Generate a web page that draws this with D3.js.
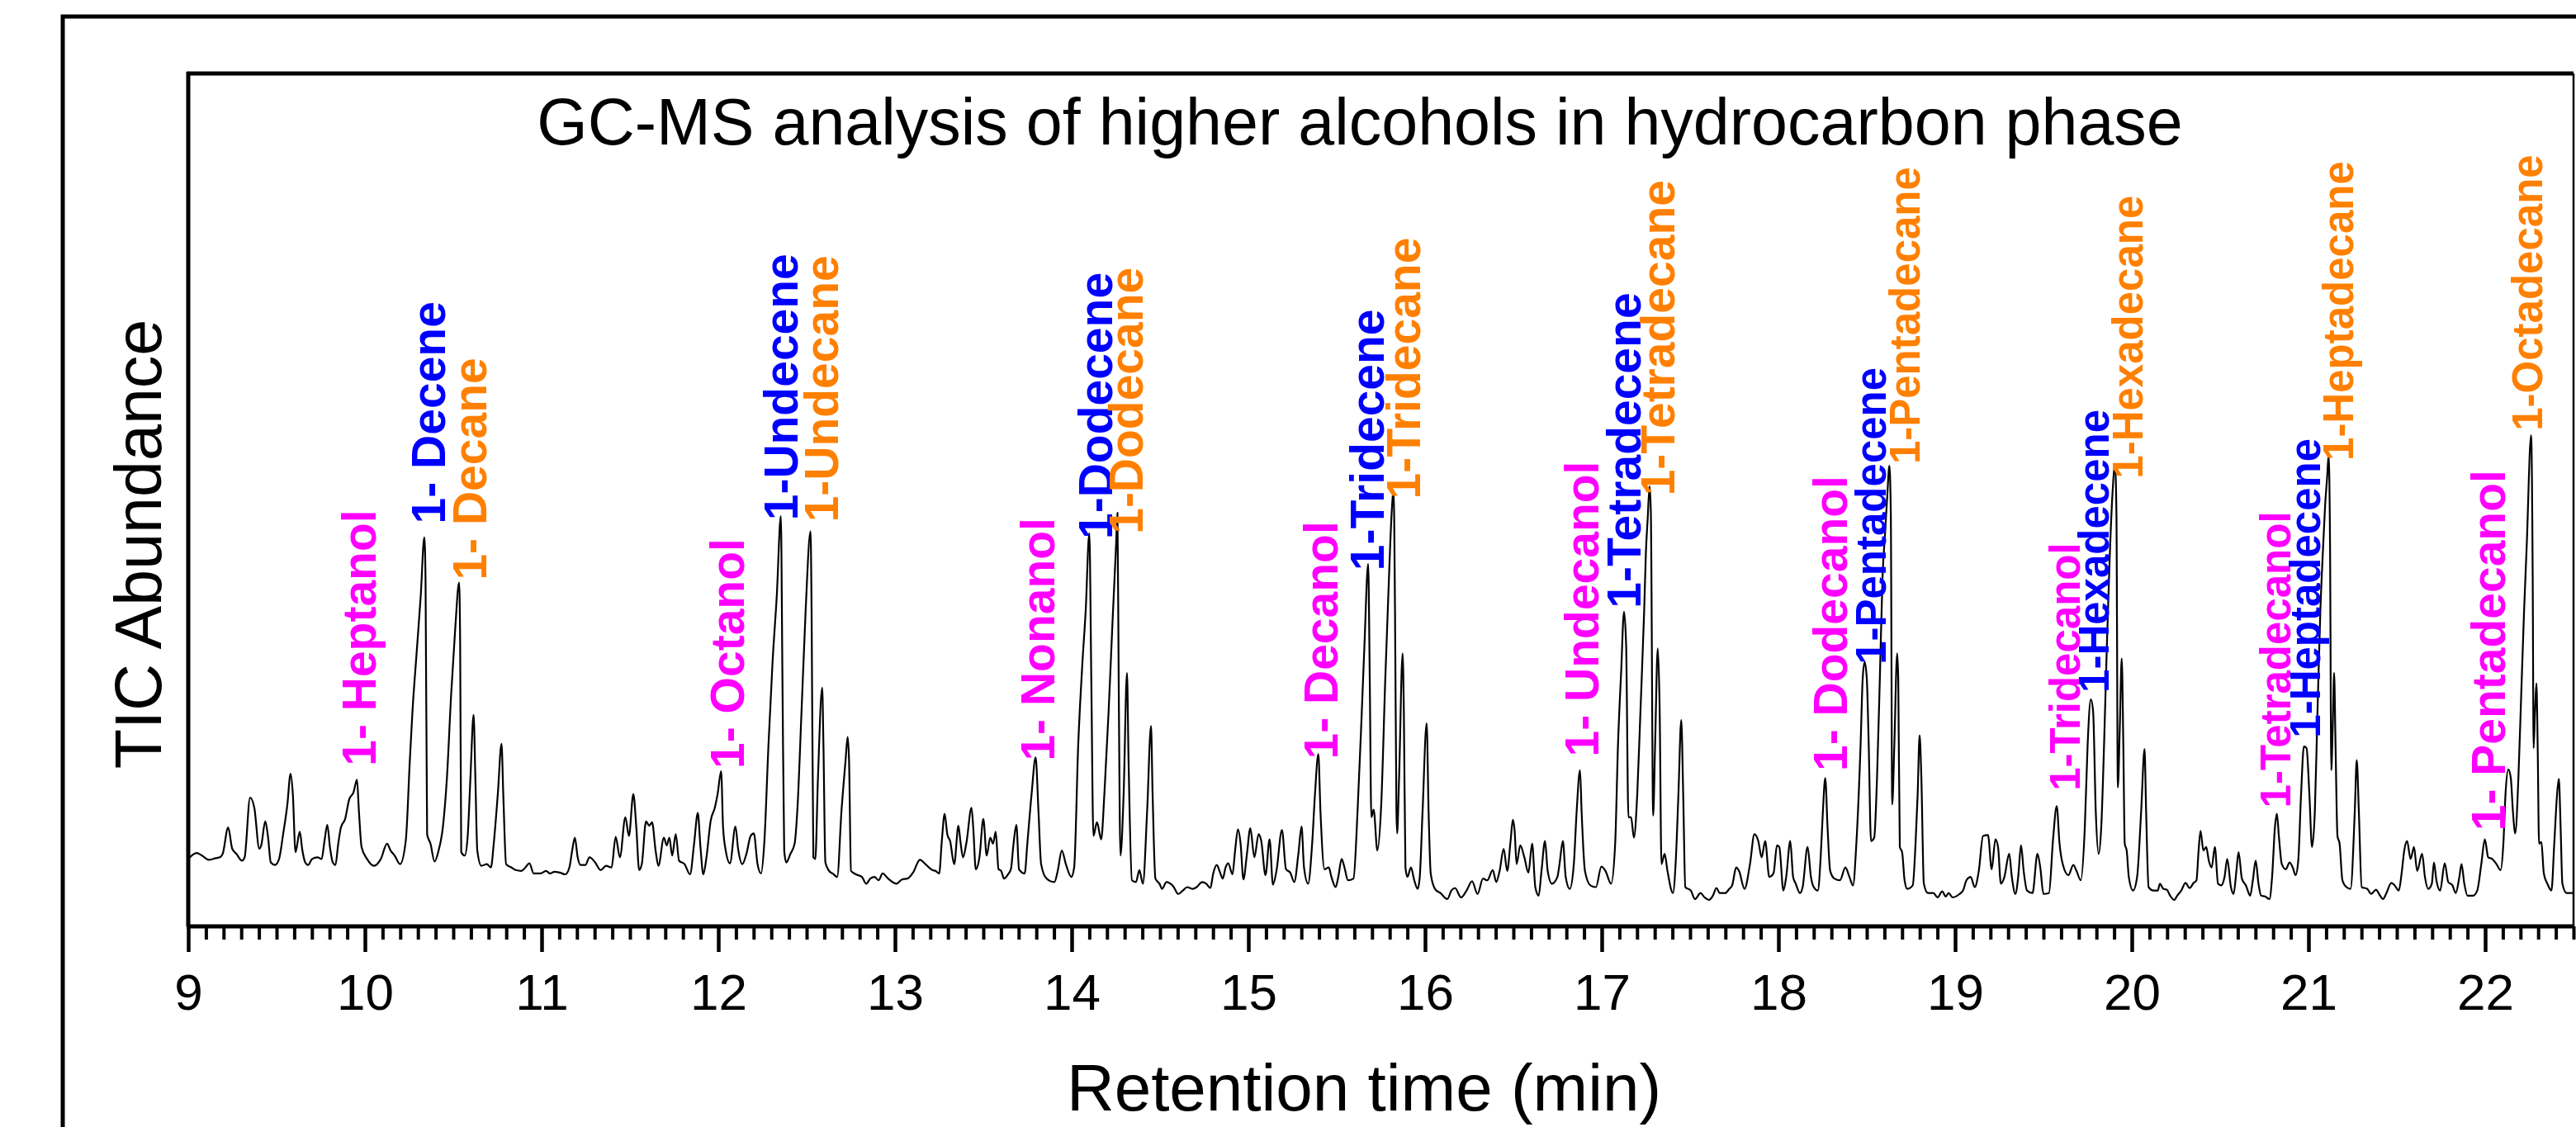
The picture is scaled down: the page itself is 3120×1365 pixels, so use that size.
<!DOCTYPE html>
<html><head><meta charset="utf-8">
<script src="https://cdn.jsdelivr.net/npm/d3@7"></script>
<style>html,body{margin:0;padding:0;background:#fff;} svg{display:block;}</style>
</head><body>
<svg id="chart" width="3120" height="1365"></svg>
<script>
// ---------------- DATA ----------------
const xTickLabels = [9,10,11,12,13,14,15,16,17,18,19,20,21,22];
const titleText = "GC-MS analysis of higher alcohols in hydrocarbon phase";
const xAxisTitle = "Retention time (min)";
const yAxisTitle = "TIC Abundance";

// TIC trace: [retention time (min), abundance (% of full scale)]
const trace9to11 = [
[9.000,7.9],[9.047,8.6],[9.078,8.3],[9.117,7.8],[9.156,8.0],[9.179,8.1],[9.195,8.5],[9.226,11.6],[9.249,9.1],[9.273,8.5],
[9.304,7.7],[9.319,8.1],[9.350,15.1],[9.374,13.9],[9.402,9.1],[9.413,9.5],[9.436,12.3],[9.452,10.4],[9.467,7.5],[9.491,7.2],
[9.514,7.9],[9.537,10.8],[9.561,14.3],[9.579,17.9],[9.592,15.5],[9.607,8.7],[9.631,11.1],[9.646,8.9],[9.662,7.5],[9.678,7.2],
[9.701,7.9],[9.732,8.1],[9.755,7.9],[9.771,10.0],[9.787,11.9],[9.802,9.3],[9.818,7.5],[9.833,7.2],[9.849,9.7],[9.864,11.6],
[9.888,12.6],[9.911,14.9],[9.935,15.7],[9.955,17.2],[9.966,13.5],[9.981,9.3],[10.012,7.9],[10.051,7.1],[10.090,7.9],[10.125,9.7],
[10.145,8.9],[10.168,8.3],[10.199,7.3],[10.231,10.0],[10.254,19.4],[10.269,25.2],[10.293,32.2],[10.316,38.8],[10.336,45.6],[10.343,40.8],
[10.352,10.8],[10.371,9.7],[10.394,7.6],[10.417,8.9],[10.441,11.6],[10.464,17.4],[10.488,27.2],[10.511,34.9],[10.533,40.3],[10.539,33.0],
[10.545,8.7],[10.565,8.3],[10.581,10.4],[10.597,17.4],[10.615,24.8],[10.625,17.4],[10.636,8.9],[10.659,7.1],[10.690,7.3],[10.713,6.9],
[10.729,9.7],[10.752,15.5],[10.773,21.4],[10.783,15.5],[10.799,7.3],[10.830,6.9],[10.854,6.6],[10.885,6.5],[10.908,6.9],[10.931,7.4],
[10.955,6.2],[10.994,6.2],[11.025,6.5],[11.048,6.2],[11.072,6.4],[11.103,6.3],[11.134,6.1],[11.157,6.9],[11.173,8.9],[11.188,10.4],
[11.204,8.1],[11.220,7.2]
];
const trace11to13 = [
[11.248,7.2],[11.271,8.1],[11.303,7.5],[11.334,6.6],[11.365,7.1],[11.396,6.9],[11.419,10.5],[11.443,8.1],[11.474,12.8],[11.494,10.6],
[11.519,15.5],[11.536,11.6],[11.552,6.6],[11.567,7.3],[11.591,12.3],[11.609,11.8],[11.625,12.2],[11.645,8.9],[11.661,7.1],[11.692,10.4],
[11.708,9.5],[11.723,10.4],[11.739,8.3],[11.759,10.8],[11.778,7.7],[11.809,7.3],[11.840,6.1],[11.863,9.7],[11.884,13.3],[11.899,9.3],
[11.915,6.1],[11.933,8.1],[11.957,12.4],[11.980,13.9],[11.996,15.5],[12.016,18.2],[12.027,11.6],[12.042,8.9],[12.066,7.4],[12.097,11.7],
[12.112,9.1],[12.136,7.3],[12.159,8.5],[12.183,10.6],[12.201,10.9],[12.222,7.3],[12.242,6.2],[12.260,9.7],[12.284,21.3],[12.307,31.0],
[12.331,38.8],[12.354,48.1],[12.363,29.1],[12.373,8.9],[12.385,7.5],[12.408,8.5],[12.432,9.7],[12.447,13.5],[12.471,25.2],[12.494,36.9],
[12.522,46.3],[12.528,36.9],[12.538,8.1],[12.549,7.9],[12.564,17.4],[12.588,28.0],[12.595,21.3],[12.606,7.5],[12.627,6.5],[12.647,6.2],
[12.673,5.8],[12.697,13.5],[12.720,19.4],[12.732,22.2],[12.740,19.4],[12.751,6.5],[12.790,6.0],[12.813,5.8],[12.837,5.0],[12.860,5.6],
[12.884,5.8],[12.907,5.4],[12.930,6.2],[12.961,5.6],[13.008,5.0],[13.039,5.5],[13.070,5.6],[13.102,6.3],[13.141,7.8],[13.172,7.3],
[13.211,6.6],[13.229,6.5],[13.250,6.2],[13.265,10.0],[13.281,13.2],[13.296,10.8],[13.312,10.0],[13.335,7.3],[13.359,11.8],[13.370,10.0],
[13.385,8.1],[13.405,9.9],[13.433,13.9],[13.444,11.2],[13.457,6.7],[13.478,8.1]
];
const trace13to16 = [
[13.500,12.6],[13.519,8.3],[13.539,10.4],[13.555,9.7],[13.570,11.1],[13.586,6.7],[13.601,6.5],[13.617,5.6],[13.640,6.1],[13.656,6.7],
[13.671,9.7],[13.687,11.9],[13.702,6.7],[13.734,6.2],[13.749,9.7],[13.773,15.5],[13.796,19.8],[13.812,13.5],[13.827,7.3],[13.858,5.6],
[13.902,5.2],[13.921,6.5],[13.944,8.9],[13.967,7.3],[13.998,5.8],[14.014,6.9],[14.037,21.3],[14.061,31.0],[14.079,36.9],[14.100,46.1],
[14.111,29.1],[14.123,10.6],[14.143,12.2],[14.167,10.2],[14.185,15.5],[14.209,25.2],[14.232,36.1],[14.251,44.6],[14.259,48.5],[14.266,29.1],
[14.276,8.3],[14.294,15.5],[14.313,29.7],[14.322,19.4],[14.341,5.4],[14.364,5.2],[14.383,6.6],[14.403,5.0],[14.427,13.5],[14.449,23.5],
[14.458,15.5],[14.474,5.6],[14.497,5.0],[14.512,4.4],[14.536,5.2],[14.575,4.7],[14.603,3.8],[14.629,4.2],[14.653,4.6],[14.684,4.4],
[14.707,4.6],[14.738,5.2],[14.762,5.0],[14.785,4.5],[14.801,6.2],[14.821,7.2],[14.840,6.3],[14.855,5.6],[14.871,6.9],[14.886,7.4],
[14.910,6.1],[14.925,8.9],[14.941,11.4],[14.956,9.7],[14.972,5.5],[14.992,8.5],[15.011,11.5],[15.034,8.1],[15.058,10.8],[15.073,10.0],
[15.097,6.0],[15.120,10.2],[15.139,4.9],[15.159,6.5],[15.190,11.3],[15.213,6.7],[15.237,6.3],[15.260,5.2],[15.283,8.5],[15.301,11.7],
[15.315,6.9],[15.338,5.0],[15.361,9.7],[15.377,15.5],[15.396,20.2],[15.408,13.5],[15.431,6.7],[15.455,6.9],[15.470,5.8],[15.494,4.6],
[15.509,5.8],[15.528,7.9],[15.544,6.9],[15.564,5.4],[15.595,5.6],[15.618,13.5],[15.642,25.2],[15.657,33.0],[15.678,42.5],[15.687,29.1],
[15.696,12.8],[15.709,13.7],[15.730,8.9]
];
const trace16to18 = [
[15.752,14.3],[15.775,29.1],[15.799,42.7],[15.811,48.5],[15.822,51.1],[15.830,36.9],[15.838,13.5],[15.842,10.9],[15.853,17.4],[15.873,32.0],
[15.880,25.2],[15.889,6.9],[15.900,5.8],[15.920,6.9],[15.939,5.4],[15.958,4.4],[15.970,5.8],[15.986,13.5],[16.009,23.8],[16.020,13.5],
[16.032,6.2],[16.056,4.4],[16.087,3.9],[16.126,3.2],[16.149,4.2],[16.169,4.5],[16.204,3.4],[16.235,4.2],[16.266,5.3],[16.297,3.8],
[16.328,5.6],[16.352,5.4],[16.383,6.6],[16.403,5.2],[16.422,6.5],[16.445,9.1],[16.465,6.5],[16.484,10.0],[16.497,12.5],[16.507,11.2],
[16.518,7.3],[16.539,9.5],[16.562,8.1],[16.585,6.3],[16.606,9.7],[16.624,4.6],[16.643,3.6],[16.659,6.5],[16.679,10.0],[16.694,6.5],
[16.718,5.0],[16.749,5.8],[16.761,7.3],[16.780,10.0],[16.796,5.8],[16.819,4.4],[16.842,7.3],[16.858,13.5],[16.877,18.3],[16.886,13.5],
[16.905,6.5],[16.936,4.8],[16.967,4.6],[16.998,7.0],[17.021,6.5],[17.053,5.0],[17.076,9.7],[17.092,21.3],[17.110,29.9],[17.126,36.9],
[17.138,33.0],[17.151,12.8],[17.166,12.8],[17.182,10.4],[17.201,15.5],[17.219,25.2],[17.240,36.9],[17.250,43.9],[17.260,47.8],[17.271,51.6],
[17.278,48.5],[17.291,13.0],[17.302,21.3],[17.317,32.6],[17.328,25.2],[17.338,7.3],[17.356,8.5],[17.372,6.5],[17.403,3.9],[17.419,7.7],
[17.434,15.5],[17.450,24.2],[17.461,15.5],[17.473,4.6],[17.504,4.2],[17.528,3.2],[17.559,3.9],[17.582,3.4],[17.606,3.1],[17.629,3.6],
[17.649,4.5],[17.668,3.9],[17.699,3.9],[17.722,4.4],[17.738,4.8],[17.761,6.9],[17.777,6.5],[17.808,4.4],[17.839,7.3],[17.864,10.8],
[17.886,10.0],[17.905,8.1],[17.925,10.0],[17.948,5.8],[17.972,6.2],[17.992,9.5]
];
const trace18to20 = [
[18.005,9.3],[18.028,4.2],[18.044,5.8],[18.067,10.0],[18.083,5.8],[18.098,5.0],[18.122,3.9],[18.137,4.6],[18.165,9.3],[18.184,5.8],
[18.200,4.6],[18.223,4.2],[18.239,8.1],[18.251,13.2],[18.265,17.4],[18.278,11.6],[18.293,6.5],[18.317,5.6],[18.348,5.4],[18.379,6.9],
[18.402,5.8],[18.422,4.8],[18.441,9.7],[18.465,21.3],[18.477,29.1],[18.488,31.0],[18.500,29.1],[18.511,21.3],[18.524,10.0],[18.542,10.4],
[18.558,17.4],[18.574,29.1],[18.589,40.8],[18.605,46.6],[18.616,50.5],[18.628,54.0],[18.636,48.5],[18.644,14.3],[18.656,21.3],[18.672,32.0],
[18.678,29.1],[18.687,9.3],[18.700,8.7],[18.714,5.4],[18.729,4.4],[18.760,4.8],[18.776,9.7],[18.788,15.5],[18.799,22.4],[18.809,17.4],
[18.823,5.0],[18.846,3.9],[18.877,3.9],[18.901,3.4],[18.927,4.1],[18.947,3.5],[18.963,3.9],[18.986,3.4],[19.025,3.8],[19.045,4.2],
[19.064,5.4],[19.088,5.8],[19.111,4.6],[19.134,6.5],[19.158,10.6],[19.186,10.7],[19.207,6.7],[19.228,10.2],[19.243,9.3],[19.259,5.0],
[19.279,5.8],[19.306,8.5],[19.321,5.8],[19.341,3.8],[19.357,5.8],[19.373,9.5],[19.388,6.5],[19.407,4.2],[19.438,3.9],[19.466,8.5],
[19.482,6.9],[19.500,3.8],[19.531,3.9],[19.555,10.4],[19.575,14.1],[19.591,9.7],[19.609,7.3],[19.641,6.0],[19.669,7.2],[19.687,6.5],
[19.711,5.4],[19.734,11.6],[19.750,21.3],[19.768,26.6],[19.781,25.2],[19.796,13.5],[19.812,8.5],[19.827,11.6],[19.843,21.3],[19.859,33.0],
[19.874,42.7],[19.890,50.5],[19.905,54.1],[19.913,48.5],[19.921,16.3],[19.932,23.3],[19.943,31.4],[19.952,21.3],[19.960,9.7],[19.971,8.9],
[19.983,5.8],[20.007,4.2],[20.030,5.8],[20.053,13.5],[20.072,20.8],[20.081,13.5],[20.095,4.6],[20.123,4.2],[20.147,4.2],[20.159,5.0],
[20.178,4.4],[20.198,4.3],[20.217,3.6],[20.240,3.1]
];
const trace20to22 = [
[20.257,3.6],[20.280,4.2],[20.304,5.1],[20.327,4.5],[20.350,5.1],[20.366,5.4],[20.378,8.9],[20.389,11.2],[20.405,8.9],[20.421,9.3],
[20.436,7.7],[20.452,6.9],[20.470,9.3],[20.488,5.0],[20.506,4.8],[20.525,5.8],[20.540,7.9],[20.561,4.6],[20.576,3.8],[20.592,6.5],
[20.604,8.7],[20.623,5.6],[20.646,4.8],[20.670,3.6],[20.685,5.4],[20.701,7.7],[20.717,5.0],[20.732,3.6],[20.755,3.5],[20.779,3.2],
[20.794,5.8],[20.810,11.6],[20.821,13.2],[20.833,10.4],[20.849,7.3],[20.872,6.7],[20.893,7.5],[20.911,6.9],[20.927,6.0],[20.942,7.7],
[20.958,15.5],[20.974,21.1],[20.989,20.9],[21.005,15.5],[21.020,9.3],[21.036,13.5],[21.051,25.2],[21.067,36.9],[21.083,44.6],[21.094,49.3],
[21.106,52.8],[21.114,55.3],[21.122,44.6],[21.129,18.3],[21.137,23.3],[21.145,29.7],[21.153,21.3],[21.164,10.6],[21.176,9.7],[21.192,5.4],
[21.215,4.6],[21.238,4.4],[21.262,13.5],[21.273,19.5],[21.285,13.5],[21.301,4.6],[21.332,4.4],[21.355,3.8],[21.382,4.3],[21.402,3.7],
[21.422,3.2],[21.441,3.9],[21.469,5.1],[21.488,4.8],[21.511,4.2],[21.527,6.2],[21.542,8.9],[21.558,10.0],[21.578,7.9],[21.597,9.3],
[21.615,6.5],[21.643,8.5],[21.659,5.8],[21.678,4.4],[21.698,5.0],[21.710,7.5],[21.724,5.4],[21.745,4.2],[21.771,7.4],[21.791,5.2],
[21.815,4.8],[21.833,3.9],[21.854,5.8],[21.866,7.3],[21.882,5.0],[21.900,3.6],[21.931,3.6],[21.955,4.2],[21.978,7.3],[21.998,10.2],
[22.017,8.1],[22.040,7.9],[22.064,7.3],[22.087,6.6],[22.103,9.7],[22.115,15.5],[22.131,18.4],[22.145,17.4],[22.157,13.5],[22.170,10.9],
[22.188,17.4],[22.204,27.2],[22.220,36.9],[22.235,44.6],[22.260,57.6],[22.269,40.8],[22.274,20.9],[22.282,25.2],[22.290,28.5],[22.297,21.3],
[22.305,9.7],[22.318,9.9],[22.332,6.2],[22.352,5.0],[22.375,4.2],[22.391,9.7],[22.407,15.5],[22.417,17.3],[22.427,11.6],[22.437,5.0],
[22.461,3.9],[22.484,3.9],[22.500,3.9]
];

// Peak annotations
const peakNames = ["1- Heptanol","1- Decene","1- Decane","1- Octanol","1-Undecene","1-Undecane","1- Nonanol","1-Dodecene","1-Dodecane",
  "1- Decanol","1-Tridecene","1-Tridecane","1- Undecanol","1-Tetradecene","1-Tetradecane","1- Dodecanol","1-Pentadecene","1-Pentadecane",
  "1-Tridecanol","1-Hexadecene","1-Hexadecane","1-Tetradecanol","1-Heptadecene","1-Heptadecane","1- Pentadecanol","1-Octadecane"];
const peakClass = ["alcohol","alkene","alkane","alcohol","alkene","alkane","alcohol","alkene","alkane",
  "alcohol","alkene","alkane","alcohol","alkene","alkane","alcohol","alkene","alkane",
  "alcohol","alkene","alkane","alcohol","alkene","alkane","alcohol","alkane"];
const labelRT = [10.061,10.453,10.687,12.145,12.449,12.678,13.902,14.229,14.402,15.505,15.766,15.972,16.981,17.220,17.411,18.388,18.607,18.799,
  19.706,19.869,20.061,20.897,21.065,21.252,22.112,22.322];
const labelAbundance = [18.8,47.2,40.6,18.5,47.6,47.4,19.4,45.4,46.0,19.6,41.7,50.1,19.9,37.3,50.5,18.2,30.7,54.2,
  15.9,27.4,52.5,13.9,22.1,54.6,11.2,58.1];

// ---------------- STYLE ----------------
const classColor = {alcohol:"#ff00ff", alkene:"#0000ff", alkane:"#ff8000"};
const compactLabels = new Set(["1-Pentadecene","1-Pentadecane","1-Tridecanol","1-Hexadecene","1-Hexadecane",
  "1-Tetradecanol","1-Heptadecene","1-Heptadecane","1-Octadecane"]);
const FONT = "'Liberation Sans', Arial, Helvetica, sans-serif";

// ---------------- DRAW ----------------
const svg = d3.select("#chart");
const plot = {left:228, right:3117, top:89, bottom:1122};
const x = d3.scaleLinear().domain([9,22.5]).range([plot.left, plot.right]);
const y = d3.scaleLinear().domain([0,100]).range([plot.bottom, plot.top]);

svg.append("rect").attr("width",3120).attr("height",1365).attr("fill","#fff");
// outer frame (extends past the picture on right and bottom)
svg.append("rect").attr("x",76).attr("y",20).attr("width",3300).attr("height",1600)
  .attr("fill","none").attr("stroke","#000").attr("stroke-width",5);

svg.append("defs").append("clipPath").attr("id","clip").append("rect")
  .attr("x",plot.left).attr("y",plot.top).attr("width",plot.right-plot.left).attr("height",plot.bottom-plot.top);

const trace = [].concat(trace9to11, trace11to13, trace13to16, trace16to18, trace18to20, trace20to22);
const line = d3.line().x(d=>x(d[0])).y(d=>y(d[1])).curve(d3.curveMonotoneX);
svg.append("path").datum(trace).attr("d",line).attr("fill","none")
  .attr("stroke","#000").attr("stroke-width",2.2).attr("stroke-linejoin","round").attr("clip-path","url(#clip)");

// plot frame
svg.append("line").attr("x1",plot.left).attr("x2",plot.left).attr("y1",plot.top-2).attr("y2",plot.bottom)
  .attr("stroke","#000").attr("stroke-width",5);
svg.append("line").attr("x1",plot.left-2).attr("x2",plot.right).attr("y1",plot.top).attr("y2",plot.top)
  .attr("stroke","#000").attr("stroke-width",5);
svg.append("line").attr("x1",plot.right).attr("x2",plot.right).attr("y1",plot.top).attr("y2",plot.bottom)
  .attr("stroke","#000").attr("stroke-width",2.5);

// minor ticks
const minorTicks = d3.range(90, 226).map(i => i/10).filter(v => Math.abs(v - Math.round(v)) > 1e-6);
const gMinor = svg.append("g").attr("transform",`translate(0,${plot.bottom})`)
  .call(d3.axisBottom(x).tickValues(minorTicks).tickSize(16).tickSizeOuter(0).tickFormat(""));
gMinor.select(".domain").remove();
gMinor.selectAll(".tick line").attr("stroke-width",4);

// major axis
const gAxis = svg.append("g").attr("transform",`translate(0,${plot.bottom})`)
  .call(d3.axisBottom(x).tickValues(xTickLabels).tickSize(31).tickSizeOuter(0).tickFormat(d3.format("d")));
gAxis.select(".domain").attr("stroke-width",5).attr("d",`M${plot.left-2},0H${plot.right+1}`);
gAxis.selectAll(".tick line").attr("stroke-width",4.5);
gAxis.selectAll(".tick text").attr("font-family",FONT).attr("font-size",62).attr("fill","#000")
  .attr("y",57).attr("dy","0.71em");

// titles
svg.append("text").attr("x",1647).attr("y",175).attr("text-anchor","middle")
  .attr("font-family",FONT).attr("font-size",79).text(titleText);
svg.append("text").attr("transform","translate(195,659) rotate(-90)").attr("text-anchor","middle")
  .attr("font-family",FONT).attr("font-size",79).text(yAxisTitle);
svg.append("text").attr("x",1652).attr("y",1345).attr("text-anchor","middle")
  .attr("font-family",FONT).attr("font-size",80).text(xAxisTitle);

// peak labels
peakNames.forEach((name,i) => {
  svg.append("text")
    .attr("transform",`translate(${x(labelRT[i])},${y(labelAbundance[i])}) rotate(-90)`)
    .attr("text-anchor","start")
    .attr("font-family",FONT).attr("font-weight","bold")
    .attr("font-size", compactLabels.has(name) ? 51 : 57)
    .attr("fill", classColor[peakClass[i]])
    .text(name);
});
</script>
</body></html>
